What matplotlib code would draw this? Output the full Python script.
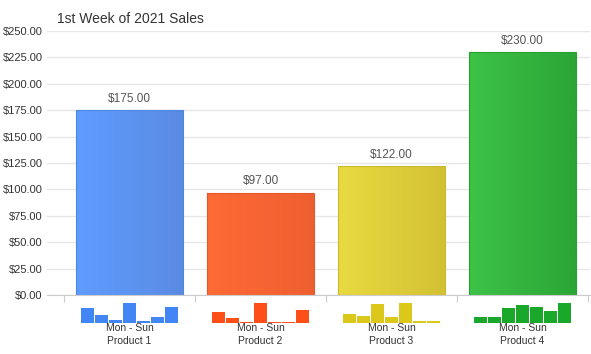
import matplotlib
matplotlib.use('Agg')
import matplotlib.pyplot as plt
import numpy as np
from matplotlib.colors import LinearSegmentedColormap

plt.rcParams['font.family'] = ['Liberation Sans', 'DejaVu Sans']

products = ['Product 1', 'Product 2', 'Product 3', 'Product 4']
totals = [175, 97, 122, 230]
# daily sales Mon..Sun for each product
daily = [
    [37, 20, 7, 51, 4, 15, 41],
    [21, 9, 1, 39, 1, 1, 25],
    [18, 13, 36, 11, 38, 3, 3],
    [15, 15, 36, 45, 40, 30, 49],
]
yticks = [0, 25, 50, 75, 100, 125, 150, 175, 200, 225, 250]

# left / right shade of the main bars, colour of mini bars
grad = [('#5f9cff', '#5a8be3'), ('#ff6a35', '#ee5f30'),
        ('#e8da40', '#d3c134'), ('#3ec247', '#2ba637')]
edges = ['#4f86e0', '#e5582a', '#cbb92c', '#27a032']
mini_colors = ['#4285f4', '#ff4f19', '#dcc81a', '#1aa82a']

W, H = 591, 354
fig = plt.figure(figsize=(W / 100, H / 100), dpi=100)
ax = fig.add_axes([47 / W, 1 - 295 / H, 543 / W, 264 / H])

x = np.arange(len(products))
bars = ax.bar(x, totals, width=0.81, zorder=2)
for b, (c1, c2), ec in zip(bars, grad, edges):
    b.set_facecolor('none')
    b.set_edgecolor(ec)
    b.set_linewidth(0.8)
    cmap = LinearSegmentedColormap.from_list('g', [c1, c2])
    x0, y0 = b.get_x(), b.get_y()
    im = ax.imshow(np.linspace(0, 1, 64).reshape(1, -1), cmap=cmap, aspect='auto',
                   extent=[x0, x0 + b.get_width(), y0, y0 + b.get_height()],
                   zorder=1.9)
    im.set_clip_path(b)
    ax.text(b.get_x() + b.get_width() / 2, b.get_height() + 5, '$%.2f' % b.get_height(),
            ha='center', va='bottom', fontsize=8.5, color='#555555')

ax.set_xlim(-0.5 - 17 / 131, 3.5 + 2 / 131)
ax.set_ylim(0, 250)
ax.set_yticks(yticks)
ax.set_yticklabels(['$%.2f' % v for v in yticks], fontsize=8, color='#333333')
ax.tick_params(axis='y', length=0, pad=3)
ax.set_xticks(np.arange(-0.5, 4, 1))
ax.set_xticklabels([])
ax.tick_params(axis='x', length=5, color='#cccccc', direction='out')
ax.grid(axis='y', color='#e6e6e6', linewidth=1, zorder=0)
for s in ['top', 'right', 'left']:
    ax.spines[s].set_visible(False)
ax.spines['bottom'].set_color('#cccccc')
ax.set_axisbelow(True)

fig.text(57 / W, 1 - 19 / H, '1st Week of 2021 Sales', fontsize=10, color='#333333',
         va='center', ha='left')

# mini charts under each product
to_fig = ax.transData + fig.transFigure.inverted()
for i, vals in enumerate(daily):
    cx = to_fig.transform((i, 0))[0]
    mw = 98 / W
    m = fig.add_axes([cx - mw / 2, 1 - 323 / H, mw, 20 / H])
    m.bar(np.arange(7), vals, width=0.9, color=mini_colors[i])
    m.set_xlim(-0.5, 6.5)
    m.set_ylim(0, max(vals))
    m.axis('off')
    fig.text(cx, 1 - 328 / H, 'Mon - Sun', ha='center', va='center', fontsize=7.5, color='#333333')
    fig.text(cx, 1 - 341 / H, products[i], ha='center', va='center', fontsize=7.5, color='#333333')

fig.savefig('out.png', dpi=100)
